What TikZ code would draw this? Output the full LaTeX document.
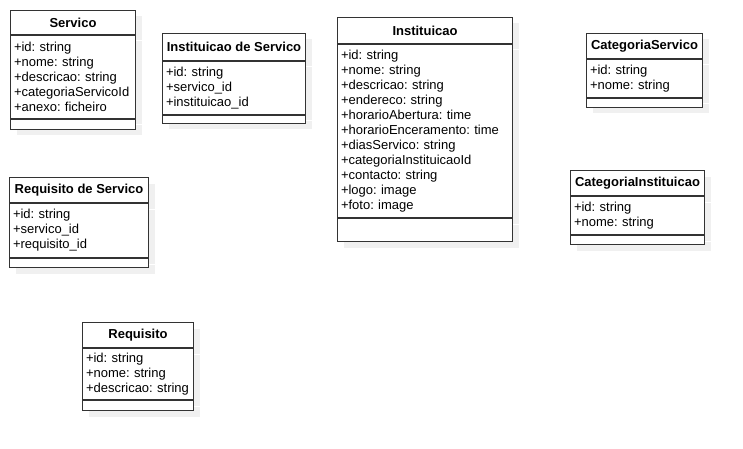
\documentclass[tikz,border=0pt]{standalone}
\usepackage{fontspec}
\setmainfont{Liberation Sans}
\frenchspacing
\usetikzlibrary{positioning,shadows}

\begin{document}
\begin{tikzpicture}[
    x=1pt,y=-1pt,
    font=\fontsize{13}{15}\selectfont,
    line width=1pt,
    box/.style={
      draw=black!80,fill=white,inner sep=0pt,anchor=north west,
      drop shadow={shadow xshift=6pt,shadow yshift=-6pt,fill=black!6,opacity=1}
    },
    classname/.style={box,font=\fontsize{13}{15}\selectfont\bfseries},
    attrs/.style={box,align=left,inner xsep=3.5pt},
    ops/.style={box}
  ]
  \useasboundingbox (0,0) rectangle (743,449);

  % Servico
  \node (srv) [classname,minimum width=125pt,minimum height=24pt] at (10,10) {Servico};
  \node (srvattr) [attrs,text width=118pt,minimum height=83pt] at (srv.south west)
    {+id: string\\+nome: string\\+descricao: string\\+categoriaServicoId\\+anexo: ficheiro};
  \node (srvop) [ops,minimum width=125pt,minimum height=10pt] at (srvattr.south west) {};

  % Instituicao de Servico
  \node (isv) [classname,minimum width=143pt,minimum height=27pt] at (162,33) {Instituicao de Servico};
  \node (isvattr) [attrs,text width=136pt,minimum height=53pt] at (isv.south west)
    {+id: string\\+servico\_id\\+instituicao\_id};
  \node (isvop) [ops,minimum width=143pt,minimum height=8pt] at (isvattr.south west) {};

  % Instituicao
  \node (ins) [classname,minimum width=175pt,minimum height=26pt] at (337,17) {Instituicao};
  \node (insattr) [attrs,text width=168pt,minimum height=173pt] at (ins.south west)
    {+id: string\\+nome: string\\+descricao: string\\+endereco: string\\+horarioAbertura: time\\
     +horarioEnceramento: time\\+diasServico: string\\+categoriaInstituicaoId\\+contacto: string\\
     +logo: image\\+foto: image};
  \node (insop) [ops,minimum width=175pt,minimum height=23pt] at (insattr.south west) {};

  % CategoriaServico
  \node (csv) [classname,minimum width=116pt,minimum height=25pt] at (586,33) {CategoriaServico};
  \node (csvattr) [attrs,text width=109pt,minimum height=38pt] at (csv.south west)
    {+id: string\\+nome: string};
  \node (csvop) [ops,minimum width=116pt,minimum height=9pt] at (csvattr.south west) {};

  % CategoriaInstituicao
  \node (cin) [classname,minimum width=134pt,minimum height=25pt] at (570,170) {CategoriaInstituicao};
  \node (cinattr) [attrs,text width=127pt,minimum height=38pt] at (cin.south west)
    {+id: string\\+nome: string};
  \node (cinop) [ops,minimum width=134pt,minimum height=9pt] at (cinattr.south west) {};

  % Requisito de Servico
  \node (rsv) [classname,minimum width=139pt,minimum height=25pt] at (9,177) {Requisito de Servico};
  \node (rsvattr) [attrs,text width=132pt,minimum height=54pt] at (rsv.south west)
    {+id: string\\+servico\_id\\+requisito\_id};
  \node (rsvop) [ops,minimum width=139pt,minimum height=9pt] at (rsvattr.south west) {};

  % Requisito
  \node (req) [classname,minimum width=111pt,minimum height=25pt] at (82,322) {Requisito};
  \node (reqattr) [attrs,text width=104pt,minimum height=51pt] at (req.south west)
    {+id: string\\+nome: string\\+descricao: string};
  \node (reqop) [ops,minimum width=111pt,minimum height=10pt] at (reqattr.south west) {};
\end{tikzpicture}
\end{document}
